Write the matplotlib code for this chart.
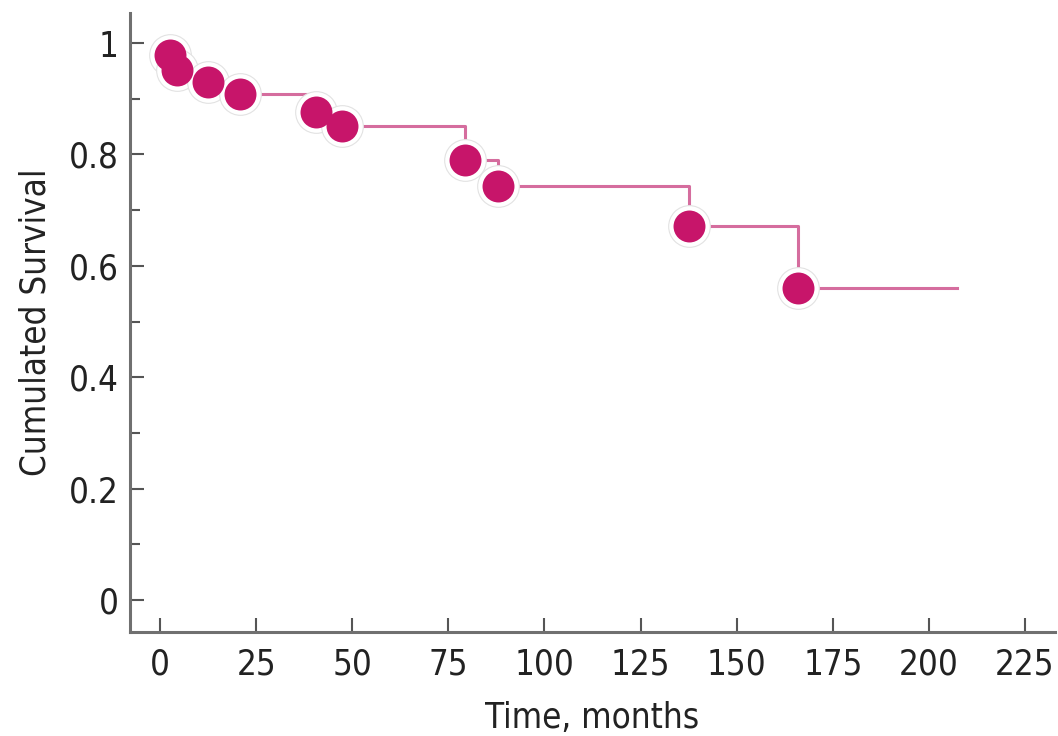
import numpy as np
import matplotlib
matplotlib.use('Agg')
import matplotlib.pyplot as plt
from matplotlib.ticker import MultipleLocator

# Event times (months) and survival after each drop
event_times = [2.6, 4.4, 12.5, 20.8, 40.6, 47.3, 79.2, 87.8, 137.6, 166.0]
survival = [0.978, 0.952, 0.930, 0.909, 0.877, 0.852, 0.790, 0.743, 0.672, 0.560]
last_followup = 207.3

x_ticks = [0, 25, 50, 75, 100, 125, 150, 175, 200, 225]
y_ticks = [0, 0.2, 0.4, 0.6, 0.8, 1.0]
y_labels = ['0', '0.2', '0.4', '0.6', '0.8', '1']

plt.rcParams['font.family'] = ['DejaVu Sans']
plt.rcParams['font.stretch'] = 'condensed'

fig = plt.figure(figsize=(10.58, 7.36), dpi=100)
ax = fig.add_axes([0.1229, 0.1413, 0.8743, 0.841])

# Kaplan-Meier style step curve
step_x = [0] + event_times + [last_followup]
step_y = [1.0] + survival + [survival[-1]]
ax.step(step_x, step_y, where='post', color='#d56d9e', linewidth=2.2, zorder=2)

# markers with a white halo behind them
ax.plot(event_times, survival, 'o', markersize=30, color='white',
        markeredgecolor='#e2e2e2', markeredgewidth=0.8, zorder=3)
ax.plot(event_times, survival, 'o', markersize=23, color='#c7156a',
        markeredgewidth=0, zorder=4)

ax.set_xlim(-7.8, 232.8)
ax.set_ylim(-0.0575, 1.054)
ax.set_xticks(x_ticks)
ax.set_yticks(y_ticks)
ax.set_yticklabels(y_labels)
ax.yaxis.set_minor_locator(MultipleLocator(0.1))

for side in ['top', 'right']:
    ax.spines[side].set_visible(False)
for side in ['left', 'bottom']:
    ax.spines[side].set_color('#707070')
    ax.spines[side].set_linewidth(2.2)

ax.tick_params(axis='both', which='major', direction='in', length=10,
               width=1.5, color='#555555', labelsize=25, labelcolor='#222222')
ax.tick_params(axis='x', pad=11)
ax.tick_params(axis='y', pad=8)
ax.tick_params(axis='y', which='minor', direction='in', length=7,
               width=1.5, color='#555555')

ax.set_xlabel('Time, months', fontsize=25, color='#222222', labelpad=14)
ax.set_ylabel('Cumulated Survival', fontsize=25, color='#222222', labelpad=12)

fig.savefig('out.png', dpi=100)
